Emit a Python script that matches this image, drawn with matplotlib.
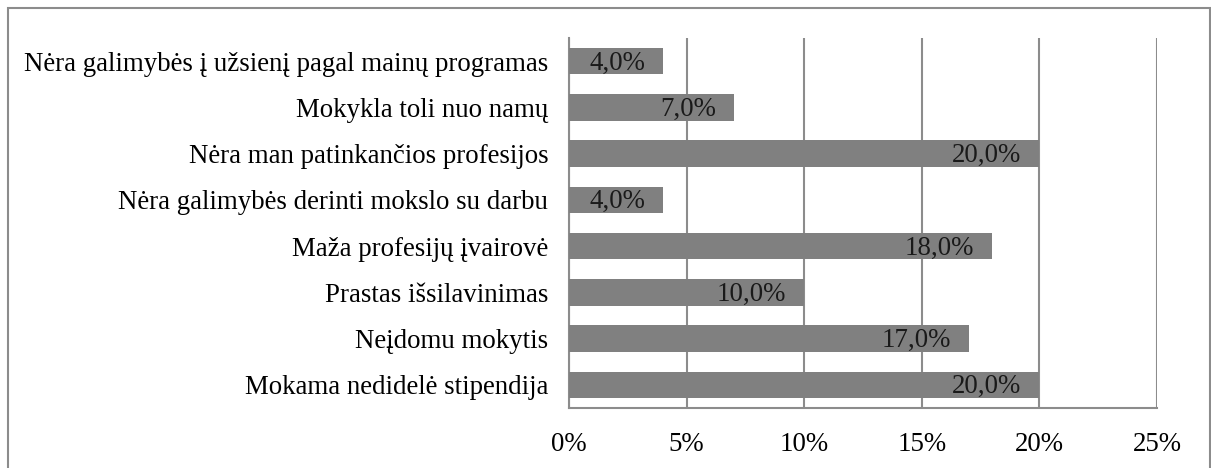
import matplotlib
matplotlib.use('Agg')
import matplotlib.pyplot as plt
from matplotlib.patches import Rectangle

# categories from top to bottom as in the chart
categories = [
    'Nėra galimybės į užsienį pagal mainų programas',
    'Mokykla toli nuo namų',
    'Nėra man patinkančios profesijos',
    'Nėra galimybės derinti mokslo su darbu',
    'Maža profesijų įvairovė',
    'Prastas išsilavinimas',
    'Neįdomu mokytis',
    'Mokama nedidelė stipendija',
]
values = [4.0, 7.0, 20.0, 4.0, 18.0, 10.0, 17.0, 20.0]
xticks = [0, 5, 10, 15, 20, 25]
xtick_labels = ['0%', '5%', '10%', '15%', '20%', '25%']

plt.rcParams['font.family'] = ['Liberation Serif', 'DejaVu Serif']
FS = 19.4

W, H = 1211, 468
fig = plt.figure(figsize=(W / 100, H / 100), dpi=100)
ax = fig.add_axes([569 / W, 1 - 408 / H, (1157 - 569) / W, (408 - 38) / H])

# outer chart frame
fig.patches.append(Rectangle((8 / W, -0.05), (1210 - 8) / W, 1 - 8 / H + 0.05,
                             transform=fig.transFigure, fill=False,
                             edgecolor='#8c8c8c', linewidth=1.5, clip_on=False))

ypos = list(range(len(categories)))[::-1]
ax.barh(ypos, values, height=0.57, color='#808080', zorder=3)

# data labels, inside end
for y, v in zip(ypos, values):
    ax.annotate(f'{v:.1f}%'.replace('.', ','), xy=(v, y), xytext=(-18, -2),
                textcoords='offset pixels',
                ha='right', va='center', fontsize=FS, color='#1a1a1a', zorder=4)

ax.set_xlim(0, 25)
ax.set_ylim(-0.5, 7.5)
ax.set_xticks(xticks)
ax.set_xticklabels(xtick_labels, fontsize=FS)
ax.set_yticks(ypos)
ax.set_yticklabels(categories, fontsize=FS)
ax.tick_params(axis='both', length=0, colors='#000000')
ax.tick_params(axis='x', pad=17)
ax.tick_params(axis='y', pad=15)
ax.grid(axis='x', color='#8c8c8c', linewidth=1.5, zorder=0)

for side in ['top', 'right']:
    ax.spines[side].set_visible(False)
for side in ['left', 'bottom']:
    ax.spines[side].set_color('#8c8c8c')
    ax.spines[side].set_linewidth(1.5)

fig.savefig('out.png', dpi=100)
